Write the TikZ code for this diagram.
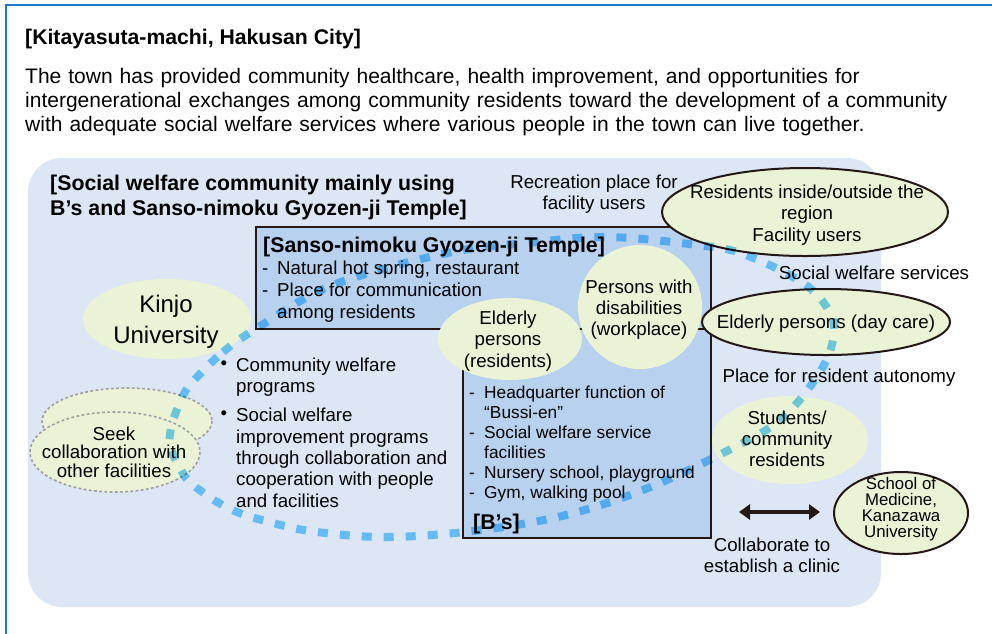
\documentclass[tikz,border=0pt]{standalone}
\usepackage{fontspec}
\setmainfont{Liberation Sans}
\usetikzlibrary{arrows.meta}
\definecolor{frameblue}{HTML}{1F78C8}
\definecolor{panelbg}{HTML}{DCE6F5}
\definecolor{boxblue}{HTML}{B7D1EE}
\definecolor{ovalgreen}{HTML}{EBF3D6}
\definecolor{ink}{HTML}{231815}
\definecolor{dashcol}{HTML}{76D0FF}
\newcommand{\fs}[1]{\fontsize{#1}{#1}\selectfont}
\newcommand{\dashitem}{\makebox[15pt][l]{-}}
\tikzset{
  x=1pt,y=-1pt,
  lbl/.style={inner sep=0pt,text=black,font=\fs{18.7},align=center},
  lblL/.style={lbl,align=left,anchor=north west},
  head/.style={lblL,font=\fs{21.3}\bfseries},
  plainfill/.style={fill=ovalgreen},
  ringed/.style={draw=ink,line width=2pt,fill=ovalgreen},
  dotted ring/.style={draw=gray!75,line width=1.6pt,dash pattern=on 2.8pt off 2.4pt,fill=ovalgreen},
  boxy/.style={draw=ink,line width=2pt,fill=boxblue},
}
\begin{document}
\begin{tikzpicture}
\useasboundingbox (0,0) rectangle (992,633);
\fill[white] (0,0) rectangle (992,633);
% frame
\draw[frameblue,line width=2.4pt] (6,640) -- (6,5) -- (1000,5);
% panel
\fill[panelbg,rounded corners=34pt] (28,158) rectangle (881,607);
% boxes
\path[boxy] (256,227) rectangle (711,329);
\path[boxy] (463,329) rectangle (711,538);
% plain ovals
\path[plainfill] (167,319) ellipse [x radius=84,y radius=40];
\path[dotted ring] (127,421) ellipse [x radius=85,y radius=33];
\path[dotted ring] (115,452) ellipse [x radius=85,y radius=40];
\path[plainfill] (510,339) ellipse [x radius=72,y radius=41];
\path[plainfill] (640,307) ellipse [x radius=62,y radius=62];
\path[plainfill] (790,440) ellipse [x radius=78,y radius=44];
% ringed ovals
\path[ringed] (805,212) ellipse [x radius=143,y radius=44];
\path[ringed] (826,322) ellipse [x radius=124,y radius=33];
\path[ringed] (901,513) ellipse [x radius=67,y radius=41];
% dashed loop
\begin{scope}[blend mode=multiply]
\draw[dashcol,line width=8pt,dash pattern=on 10pt off 12pt]
 plot[smooth cycle,tension=0.6] coordinates {(190,385)(223,352)(262,325)(333,285)(447,253)(527,243)(607,237)(697,245)(743,254)(803,283)(830,313)(833,340)(818,375)(780,420)(723,453)(643,490)(562,516)(473,531)(387,537)(317,532)(273,523)(230,509)(193,485)(180,468)(170,445)(172,424)(180,403)};
\end{scope}
% arrow
\coordinate (arrowL) at (739,512);
\coordinate (arrowR) at (820,512);
\draw[ink,line width=3.4pt,{Triangle[length=11pt,width=15pt]}-{Triangle[length=11pt,width=15pt]}] (arrowL) -- (arrowR);
% texts
\node[lblL,font=\fs{21.2}\bfseries] (title) at (25,29) {[Kitayasuta-machi, Hakusan City]};
\node[lblL,font=\fs{21},align=left,text width=960pt] (intro) at (25,68.5) {The town has provided community healthcare, health improvement, and opportunities for\\[3pt]intergenerational exchanges among community residents toward the development of a community\\[3pt]with adequate social welfare services where various people in the town can live together.};
\node[head] (panelhead) at (50,175) {[Social welfare community mainly using\\[3.7pt]B’s and Sanso-nimoku Gyozen-ji Temple]};
\node[lbl] (recreation) at (594,194) {Recreation place for\\[2.5pt]facility users};
\node[lbl] (residents) at (807,215) {Residents inside/outside the\\[2.5pt]region\\[2.5pt]Facility users};
\node[head] (sanso) at (263,237) {[Sanso-nimoku Gyozen-ji Temple]};
\node[lblL] (sansoA) at (262,261) {\dashitem Natural hot spring, restaurant};
\node[lblL] (sansoB) at (262,283) {\dashitem Place for communication\\[2.7pt]\hspace{15pt}among residents};
\node[lbl] (persons) at (639,309.5) {Persons with\\[2.5pt]disabilities\\[2.5pt](workplace)};
\node[lbl] (elderlyres) at (508,341) {Elderly\\[2.5pt]persons\\[2.5pt](residents)};
\node[lbl,font=\fs{24}] (kinjo) at (166,321.5) {Kinjo\\[7.3pt]University};
\node[lbl] (daycare) at (826,324) {Elderly persons (day care)};
\node[lbl] (socialsvc) at (874,273) {Social welfare services};
\node[lbl] (autonomy) at (839,378) {Place for resident autonomy};
\node[lbl] (students) at (787,439) {Students/\\[2.5pt]community\\[2.5pt]residents};
\node[lbl,font=\fs{16.8}] (school) at (901,509) {School of\\[-0.7pt]Medicine,\\[-0.7pt]Kanazawa\\[-0.7pt]University};
\node[lbl] (collab) at (772,555.5) {Collaborate to\\[2.5pt]establish a clinic};
\node[lbl] (seek) at (114,452) {Seek\\[-0.3pt]collaboration with\\[-0.3pt]other facilities};
\node[lblL] (bulletA) at (236,357.5) {Community welfare\\[2.7pt]programs};
\node[lbl] (dotA) at (224,365) {•};
\node[lblL] (bulletB) at (236,408) {Social welfare\\[2.7pt]improvement programs\\[2.7pt]through collaboration and\\[2.7pt]cooperation with people\\[2.7pt]and facilities};
\node[lbl] (dotB) at (224,415) {•};
\node[lblL,font=\fs{17.3}] (bsA) at (469,386) {\dashitem Headquarter function of\\[2.7pt]\hspace{15pt}“Bussi-en”\\[2.7pt]\dashitem Social welfare service\\[2.7pt]\hspace{15pt}facilities\\[2.7pt]\dashitem Nursery school, playground\\[2.7pt]\dashitem Gym, walking pool};
\node[head] (bs) at (473,514) {[B’s]};
\end{tikzpicture}
\end{document}
